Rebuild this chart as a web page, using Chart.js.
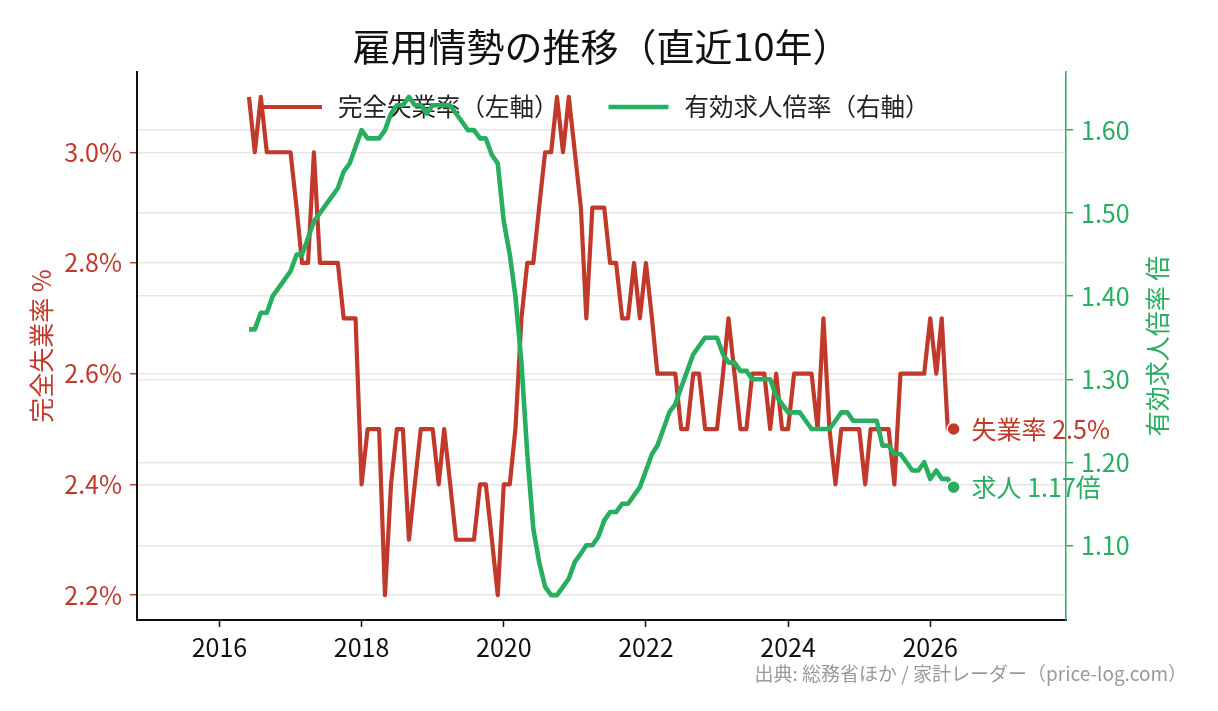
<!DOCTYPE html>
<html lang="ja">
<head>
<meta charset="utf-8">
<title>雇用情勢の推移（直近10年）</title>
<script src="https://cdn.jsdelivr.net/npm/chart.js@4.4.1/dist/chart.umd.min.js"></script>
<style>
  html, body { margin: 0; padding: 0; background: #fff; }
  #wrap { width: 1218px; height: 711px; position: relative; }
</style>
</head>
<body>
<div id="wrap"><canvas id="employment-chart"></canvas></div>
<script>
// ------------------ DATA -------------------//
const months = [
  "2016-06", "2016-07", "2016-08", "2016-09", "2016-10", "2016-11", "2016-12",
  "2017-01", "2017-02", "2017-03", "2017-04", "2017-05", "2017-06", "2017-07", "2017-08", "2017-09", "2017-10", "2017-11", "2017-12",
  "2018-01", "2018-02", "2018-03", "2018-04", "2018-05", "2018-06", "2018-07", "2018-08", "2018-09", "2018-10", "2018-11", "2018-12",
  "2019-01", "2019-02", "2019-03", "2019-04", "2019-05", "2019-06", "2019-07", "2019-08", "2019-09", "2019-10", "2019-11", "2019-12",
  "2020-01", "2020-02", "2020-03", "2020-04", "2020-05", "2020-06", "2020-07", "2020-08", "2020-09", "2020-10", "2020-11", "2020-12",
  "2021-01", "2021-02", "2021-03", "2021-04", "2021-05", "2021-06", "2021-07", "2021-08", "2021-09", "2021-10", "2021-11", "2021-12",
  "2022-01", "2022-02", "2022-03", "2022-04", "2022-05", "2022-06", "2022-07", "2022-08", "2022-09", "2022-10", "2022-11", "2022-12",
  "2023-01", "2023-02", "2023-03", "2023-04", "2023-05", "2023-06", "2023-07", "2023-08", "2023-09", "2023-10", "2023-11", "2023-12",
  "2024-01", "2024-02", "2024-03", "2024-04", "2024-05", "2024-06", "2024-07", "2024-08", "2024-09", "2024-10", "2024-11", "2024-12",
  "2025-01", "2025-02", "2025-03", "2025-04", "2025-05", "2025-06", "2025-07", "2025-08", "2025-09", "2025-10", "2025-11", "2025-12",
  "2026-01", "2026-02", "2026-03", "2026-04", "2026-05"
];

// 完全失業率 (%)
const unemploymentRate = [
  3.1, 3.0, 3.1, 3.0, 3.0, 3.0, 3.0,
  3.0, 2.9, 2.8, 2.8, 3.0, 2.8, 2.8, 2.8, 2.8, 2.7, 2.7, 2.7,
  2.4, 2.5, 2.5, 2.5, 2.2, 2.4, 2.5, 2.5, 2.3, 2.4, 2.5, 2.5,
  2.5, 2.4, 2.5, 2.4, 2.3, 2.3, 2.3, 2.3, 2.4, 2.4, 2.3, 2.2,
  2.4, 2.4, 2.5, 2.7, 2.8, 2.8, 2.9, 3.0, 3.0, 3.1, 3.0, 3.1,
  3.0, 2.9, 2.7, 2.9, 2.9, 2.9, 2.8, 2.8, 2.7, 2.7, 2.8, 2.7,
  2.8, 2.7, 2.6, 2.6, 2.6, 2.6, 2.5, 2.5, 2.6, 2.6, 2.5, 2.5,
  2.5, 2.6, 2.7, 2.6, 2.5, 2.5, 2.6, 2.6, 2.6, 2.5, 2.6, 2.5,
  2.5, 2.6, 2.6, 2.6, 2.6, 2.5, 2.7, 2.5, 2.4, 2.5, 2.5, 2.5,
  2.5, 2.4, 2.5, 2.5, 2.5, 2.5, 2.4, 2.6, 2.6, 2.6, 2.6, 2.6,
  2.7, 2.6, 2.7, 2.5, 2.5
];

// 有効求人倍率 (倍)
const jobsRatio = [
  1.36, 1.36, 1.38, 1.38, 1.40, 1.41, 1.42,
  1.43, 1.45, 1.45, 1.47, 1.49, 1.50, 1.51, 1.52, 1.53, 1.55, 1.56, 1.58,
  1.60, 1.59, 1.59, 1.59, 1.60, 1.62, 1.63, 1.63, 1.64, 1.63, 1.63, 1.62,
  1.63, 1.63, 1.63, 1.63, 1.62, 1.61, 1.60, 1.60, 1.59, 1.59, 1.57, 1.56,
  1.49, 1.45, 1.40, 1.32, 1.21, 1.12, 1.08, 1.05, 1.04, 1.04, 1.05, 1.06,
  1.08, 1.09, 1.10, 1.10, 1.11, 1.13, 1.14, 1.14, 1.15, 1.15, 1.16, 1.17,
  1.19, 1.21, 1.22, 1.24, 1.26, 1.27, 1.29, 1.31, 1.33, 1.34, 1.35, 1.35,
  1.35, 1.33, 1.32, 1.32, 1.31, 1.31, 1.30, 1.30, 1.30, 1.30, 1.28, 1.27,
  1.26, 1.26, 1.26, 1.25, 1.24, 1.24, 1.24, 1.24, 1.25, 1.26, 1.26, 1.25,
  1.25, 1.25, 1.25, 1.25, 1.22, 1.22, 1.21, 1.21, 1.20, 1.19, 1.19, 1.20,
  1.18, 1.19, 1.18, 1.18, 1.17
];

const yearTicks = [2016, 2018, 2020, 2022, 2024, 2026];
const rateTicks = [2.2, 2.4, 2.6, 2.8, 3.0];
const ratioTicks = [1.1, 1.2, 1.3, 1.4, 1.5, 1.6];

const chartTitle = "雇用情勢の推移（直近10年）";
const rateLabel = "完全失業率（左軸）";
const ratioLabel = "有効求人倍率（右軸）";
const rateAxisTitle = "完全失業率 %";
const ratioAxisTitle = "有効求人倍率 倍";
const sourceText = "出典: 総務省ほか / 家計レーダー（price-log.com）";

// ------------------ STYLE -------------------//
const RED = "#c0392b";
const GREEN = "#27ae60";
const INK = "#111111";
const FONT = '"Noto Sans CJK JP", "Noto Sans", sans-serif';
const RED_WIDTH = 4.2;
const GREEN_WIDTH = 4.6;

Chart.defaults.font.family = FONT;

// "2016-06" -> 2016.41 (position of the 1st of the month inside the year)
function toDecimalYear(s) {
    const [y, m] = s.split("-").map(Number);
    const start = Date.UTC(y, 0, 1);
    const end = Date.UTC(y + 1, 0, 1);
    return y + (Date.UTC(y, m - 1, 1) - start) / (end - start);
}

const xValues = months.map(toDecimalYear);
const lastIndex = months.length - 1;
const endDot = ctx => ctx.dataIndex === lastIndex ? 6.5 : 0;

// ------------------ OVERLAY TEXT -------------------//
function text(ctx, str, x, y, font, color, align) {
    ctx.save();
    ctx.font = font;
    ctx.fillStyle = color;
    ctx.textAlign = align || "left";
    ctx.textBaseline = "middle";
    ctx.fillText(str, x, y);
    ctx.restore();
}

function rotatedText(ctx, str, x, y, font, color) {
    ctx.save();
    ctx.translate(x, y);
    ctx.rotate(-Math.PI / 2);
    ctx.font = font;
    ctx.fillStyle = color;
    ctx.textAlign = "center";
    ctx.textBaseline = "middle";
    ctx.fillText(str, 0, 0);
    ctx.restore();
}

const overlay = {
    id: "overlay",
    // legend sits above the red line but below the green one
    afterDatasetDraw(chart, args) {
        if (args.index !== 0) return;
        const ctx = chart.ctx;
        const legendFont = "24.5px " + FONT;
        const items = [
            { label: rateLabel, color: RED, width: RED_WIDTH },
            { label: ratioLabel, color: GREEN, width: GREEN_WIDTH }
        ];
        let x = 262;
        const y = 107;
        ctx.save();
        ctx.font = legendFont;
        items.forEach(item => {
            ctx.strokeStyle = item.color;
            ctx.lineWidth = item.width;
            ctx.beginPath();
            ctx.moveTo(x, y);
            ctx.lineTo(x + 60, y);
            ctx.stroke();
            text(ctx, item.label, x + 76, y, legendFont, "#222");
            x += 76 + ctx.measureText(item.label).width + 50;
        });
        ctx.restore();
    },
    afterDraw(chart) {
        const ctx = chart.ctx;
        const area = chart.chartArea;
        const xs = chart.scales.x;
        const yl = chart.scales.yRate;
        const yr = chart.scales.yRatio;

        text(ctx, chartTitle, (area.left + area.right) / 2, 47, "38px " + FONT, INK, "center");

        const midY = (area.top + area.bottom) / 2;
        rotatedText(ctx, rateAxisTitle, 41, midY, "25px " + FONT, RED);
        rotatedText(ctx, ratioAxisTitle, 1157, midY, "25px " + FONT, GREEN);

        // end-of-series labels
        const lx = xs.getPixelForValue(xValues[lastIndex]) + 18;
        const lastRate = unemploymentRate[lastIndex];
        const lastRatio = jobsRatio[lastIndex];
        text(ctx, "失業率 " + lastRate.toFixed(1) + "%", lx, yl.getPixelForValue(lastRate), "25px " + FONT, RED);
        text(ctx, "求人 " + lastRatio.toFixed(2) + "倍", lx, yr.getPixelForValue(lastRatio), "25px " + FONT, GREEN);

        text(ctx, sourceText, 1187, 674, "19px " + FONT, "#9a9a9a", "right");
    }
};

// ------------------ CHART -------------------//
const canvas = document.getElementById("employment-chart");

new Chart(canvas, {
    type: "line",
    data: {
        datasets: [{
            label: rateLabel,
            data: xValues.map((x, i) => ({ x: x, y: unemploymentRate[i] })),
            yAxisID: "yRate",
            borderColor: RED,
            backgroundColor: RED,
            borderWidth: RED_WIDTH,
            borderJoinStyle: "round",
            tension: 0,
            pointRadius: endDot,
            pointBackgroundColor: RED,
            pointBorderColor: "#fff",
            pointBorderWidth: 1.5,
            order: 1
        }, {
            label: ratioLabel,
            data: xValues.map((x, i) => ({ x: x, y: jobsRatio[i] })),
            yAxisID: "yRatio",
            borderColor: GREEN,
            backgroundColor: GREEN,
            borderWidth: GREEN_WIDTH,
            borderJoinStyle: "round",
            tension: 0,
            pointRadius: endDot,
            pointBackgroundColor: GREEN,
            pointBorderColor: "#fff",
            pointBorderWidth: 1.5,
            order: 0
        }]
    },
    options: {
        responsive: true,
        maintainAspectRatio: false,
        animation: false,
        events: [],
        layout: { padding: { top: 72, left: 0, right: 0, bottom: 0 } },
        plugins: {
            legend: { display: false },
            title: { display: false },
            tooltip: { enabled: false }
        },
        scales: {
            x: {
                type: "linear",
                min: 2014.84,
                max: 2027.91,
                afterBuildTicks: axis => { axis.ticks = yearTicks.map(v => ({ value: v })); },
                afterFit: axis => { axis.height = 91; },
                grid: { drawOnChartArea: false, tickLength: 7, tickColor: INK, tickWidth: 1.5 },
                border: { color: INK, width: 2 },
                ticks: { color: INK, font: { size: 25 }, padding: 5, maxRotation: 0, callback: v => String(v) }
            },
            yRate: {
                type: "linear",
                position: "left",
                min: 2.155,
                max: 3.145,
                afterBuildTicks: axis => { axis.ticks = rateTicks.map(v => ({ value: v })); },
                afterFit: axis => { axis.width = 137; },
                grid: { color: "#e6e6e6", lineWidth: 1.4, tickLength: 7, tickColor: RED, tickWidth: 1.5 },
                border: { color: INK, width: 2 },
                ticks: { color: RED, font: { size: 25 }, padding: 8, callback: v => v.toFixed(1) + "%" }
            },
            yRatio: {
                type: "linear",
                position: "right",
                min: 1.01,
                max: 1.67,
                afterBuildTicks: axis => { axis.ticks = ratioTicks.map(v => ({ value: v })); },
                afterFit: axis => { axis.width = 152; },
                grid: { color: "#e6e6e6", lineWidth: 1.4, tickLength: 7, tickColor: GREEN, tickWidth: 1.5 },
                border: { color: GREEN, width: 1.5 },
                ticks: { color: GREEN, font: { size: 25 }, padding: 8, callback: v => v.toFixed(2) }
            }
        }
    },
    plugins: [overlay]
});
</script>
</body>
</html>
